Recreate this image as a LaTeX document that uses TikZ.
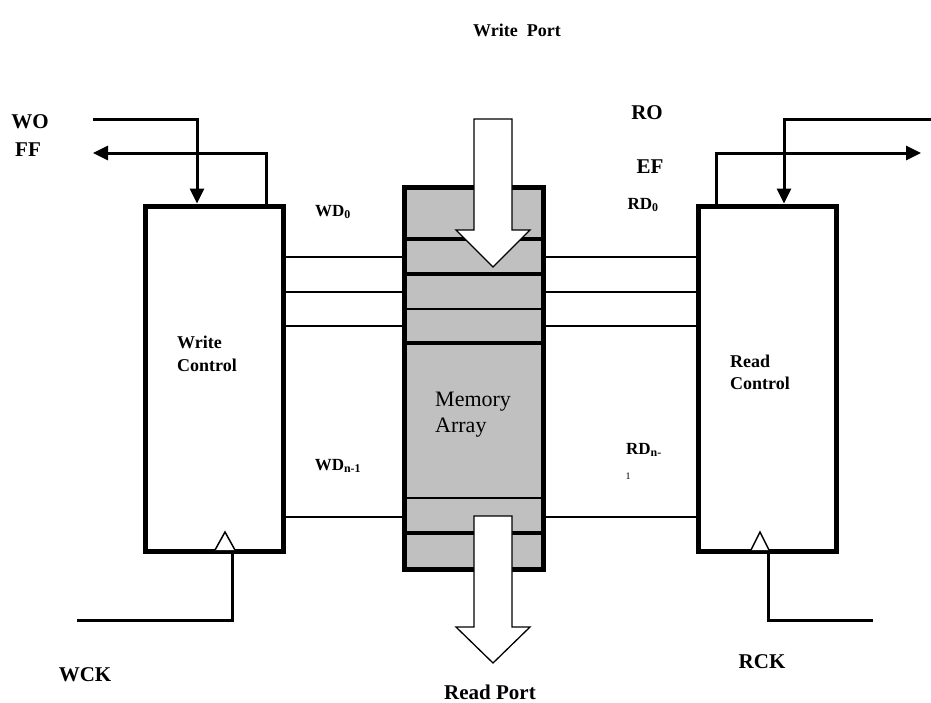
\documentclass[tikz,border=0pt]{standalone}
\usepackage{fontspec}
\setmainfont{Liberation Serif}
\usetikzlibrary{arrows.meta}
\definecolor{memgray}{HTML}{C0C0C0}
\begin{document}
\begin{tikzpicture}[x=1pt,y=-1pt,
  ctrlbox/.style={draw,line width=5pt,minimum width=138pt,minimum height=345pt,inner sep=0pt,outer sep=0pt},
  membox/.style={draw,line width=5pt,fill=memgray,minimum width=139pt,minimum height=382pt,inner sep=0pt,outer sep=0pt},
  wire/.style={line width=3pt},
  bus/.style={line width=2.5pt},
  sig/.style={line width=3pt,-{Triangle[length=15pt,width=14pt]}},
  port/.style={draw,fill=white,line width=1.3pt,line join=miter},
  clk/.style={draw,fill=white,line width=1.5pt,line join=miter},
  lbl/.style={font=\bfseries\fontsize{21}{24}\selectfont,inner sep=0pt},
  slbl/.style={font=\bfseries\fontsize{17}{20}\selectfont,inner sep=0pt},
]
\useasboundingbox (0,0) rectangle (931,702);

% boxes
\node[ctrlbox] (wc) at (214,378.5) {};
\node[membox] (mem) at (473.5,378) {};
\node[ctrlbox] (rc) at (767.5,378.5) {};

% level coordinates
\coordinate (l1) at (0,239);
\coordinate (l2) at (0,274);
\coordinate (l3) at (0,309);
\coordinate (l4) at (0,343);
\coordinate (l5) at (0,498);
\coordinate (l6) at (0,533);
\coordinate (b1) at (0,257);
\coordinate (b2) at (0,292);
\coordinate (b3) at (0,326);
\coordinate (b4) at (0,517);

% memory rows
\draw[line width=3.5pt] (mem.west |- l1) -- (mem.east |- l1);
\draw[line width=3.5pt] (mem.west |- l2) -- (mem.east |- l2);
\draw[line width=2.5pt] (mem.west |- l3) -- (mem.east |- l3);
\draw[line width=3.5pt] (mem.west |- l4) -- (mem.east |- l4);
\draw[line width=2.5pt] (mem.west |- l5) -- (mem.east |- l5);
\draw[line width=3.5pt] (mem.west |- l6) -- (mem.east |- l6);

% data lines
\foreach \b in {b1,b2,b3,b4}{
  \draw[bus] (wc.east |- \b) -- (mem.west |- \b);
  \draw[bus] (mem.east |- \b) -- (rc.west |- \b);
}

% port arrows
\draw[port] (474,119) -- (512,119) -- (512,230) -- (530,230) -- (493,267) -- (456,230) -- (474,230) -- cycle;
\draw[port] (474,516) -- (512,516) -- (512,627) -- (530,627) -- (493,663) -- (456,627) -- (474,627) -- cycle;

% control signals
\coordinate (wo) at (93,119);
\coordinate (ff) at (93,153);
\coordinate (ro) at (931,119);
\coordinate (ef) at (921,153);
\draw[sig,shorten >=2.5pt] (wo) -| ([xshift=-17pt]wc.north);
\draw[sig] ([xshift=52pt]wc.north) |- (ff);
\draw[sig,shorten >=2.5pt] (ro) -| ([xshift=16.5pt]rc.north);
\draw[sig] ([xshift=-51.5pt]rc.north) |- (ef);

% clocks
\coordinate (wck) at (77,620);
\coordinate (rck) at (873,620);
\draw[wire] ([xshift=18pt]wc.south) |- (wck);
\draw[wire] ([xshift=0.5pt]rc.south) |- (rck);
\draw[clk] (215,550) -- (225,532) -- (235,550);
\draw[clk] (751,550) -- (760,532) -- (769,550);

% labels
\node[font=\bfseries\fontsize{18}{21}\selectfont,inner sep=0pt] (tw) at (517,30) {Write\ \ Port};
\node[lbl] (two) at (30,122) {WO};
\node[lbl] (tff) at (28,150) {FF};
\node[lbl] (tro) at (647,113) {RO};
\node[lbl] (tef) at (650,167) {EF};
\node[slbl] (twd0) at (333,212) {WD\textsubscript{0}};
\node[slbl] (trd0) at (643,205) {RD\textsubscript{0}};
\node[slbl] (twdn) at (338,466) {WD\textsubscript{n-1}};
\node[slbl] (trdn) at (644,450) {RD\textsubscript{n-}};
\node[font=\fontsize{10}{12}\selectfont,inner sep=0pt] (trdn1) at (628,476) {1};
\node[font=\bfseries\fontsize{18}{23}\selectfont,inner sep=0pt,align=left,anchor=north west] (twc) at (177,336) {Write\\Control};
\node[font=\bfseries\fontsize{18}{22}\selectfont,inner sep=0pt,align=left,anchor=north west] (trc) at (730,355) {Read\\Control};
\node[font=\fontsize{22}{26}\selectfont,inner sep=0pt,align=left,anchor=north west] (tma) at (435,392) {Memory\\Array};
\node[lbl] (twck) at (85,675) {WCK};
\node[lbl] (trck) at (762,662) {RCK};
\node[lbl] (trp) at (490,692) {Read Port};
\end{tikzpicture}
\end{document}
